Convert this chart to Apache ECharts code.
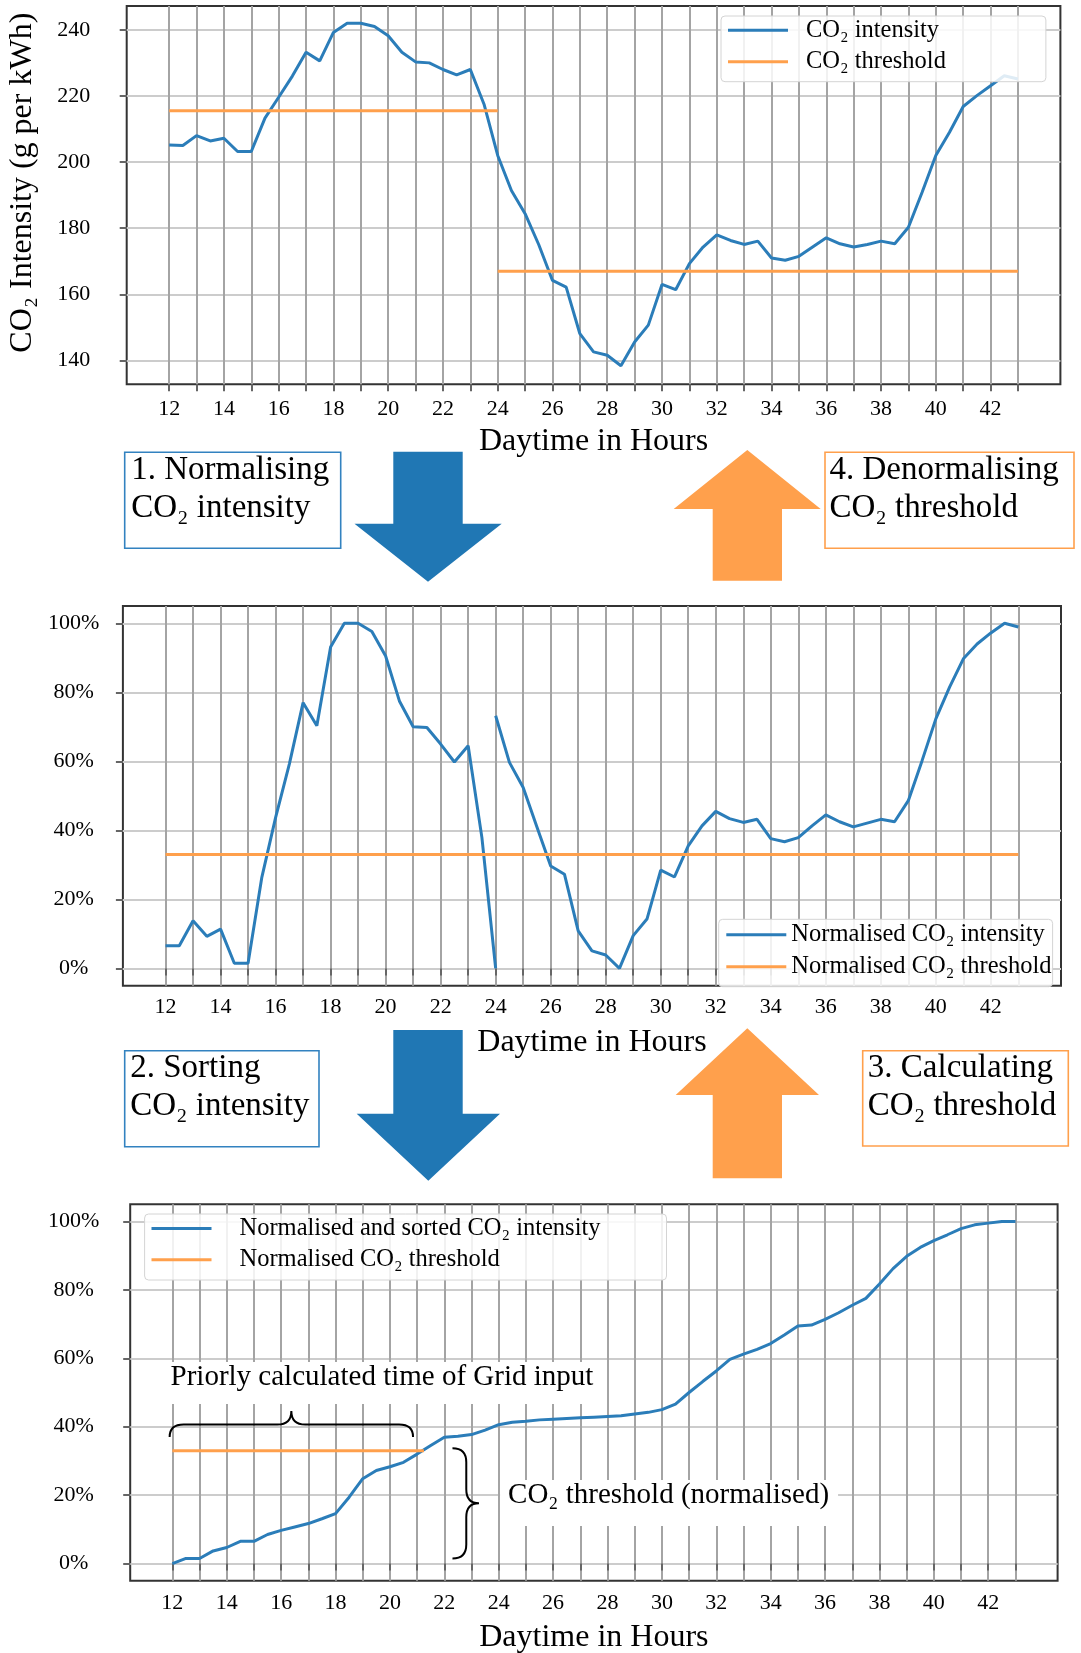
<!DOCTYPE html>
<html>
<head>
<meta charset="utf-8">
<title>CO₂ threshold calculation</title>
<script src="https://cdn.jsdelivr.net/npm/echarts@6/dist/echarts.min.js"></script>
<style>
  html, body { margin: 0; padding: 0; background: #fff; }
  #chart { width: 1081px; height: 1653px; }
</style>
</head>
<body>
<div id="chart"></div>
<script>
// ---- data -------------------------------------------------------------
// Half-hourly time steps, hours counted from midnight of the first day
const HOURS = [12,12.5,13,13.5,14,14.5,15,15.5,16,16.5,17,17.5,18,18.5,19,19.5,20,20.5,21,21.5,22,22.5,23,23.5,24,
  24.5,25,25.5,26,26.5,27,27.5,28,28.5,29,29.5,30,30.5,31,31.5,32,32.5,33,33.5,34,34.5,35,35.5,36,36.5,37,37.5,38,38.5,
  39,39.5,40,40.5,41,41.5,42,42.5,43];

// Grid CO₂ intensity in g per kWh
const CO2_INTENSITY = [205.2,205,208,206.4,207.2,203.2,203.2,213.3,219.6,226,233.2,230.6,239.2,242,242,241,238.2,233.2,
  230.3,230,228,226.4,228,217.5,202,
  191.4,184.4,175,164.2,162.2,148.1,142.6,141.6,138.4,145.6,150.7,163,161.4,169.3,174.3,178,176.3,175.1,176.1,171,170.3,
  171.5,174.3,177.1,175.3,174.3,175.1,176.1,175.3,180.3,190.9,202,209,216.8,220.1,223.1,226.1,225.1];

// Normalised intensity (%) for the first window, 12 h – 24 h
const NORM_WINDOW_1 = [6.6,6.6,13.8,9.3,11.4,1.5,1.5,26.4,43.7,59.2,77,70.3,93.1,100,100,97.6,90.5,77.5,70,69.8,65,59.8,
  64.5,37.9,0];
// Normalised intensity (%) for the second window, 24 h – 43 h
const NORM_WINDOW_2 = [73.2,59.7,52.4,41,29.7,27.3,10.9,5.1,3.9,0,9.5,14.3,28.5,26.5,35.5,41.3,45.5,43.4,42.3,43.2,37.6,
  36.7,37.9,41.3,44.5,42.5,41,42.1,43.2,42.5,48.6,60.2,72.3,81.5,89.7,94,97.2,100,98.9];

// Normalised intensity (%) sorted in ascending order
const SORTED_NORM = [0,1.5,1.5,3.7,4.7,6.5,6.5,8.5,9.7,10.7,11.7,13.1,14.6,19.4,24.8,27.2,28.3,29.6,32,34.5,36.9,37.2,
  37.7,39,40.6,41.3,41.6,42,42.2,42.4,42.6,42.8,43,43.2,43.7,44.2,45,46.6,50,53.2,56.3,59.7,61.2,62.6,64.3,66.8,69.4,
  69.7,71.4,73.3,75.5,77.5,81.7,86.2,89.8,92.4,94.4,96.1,97.9,99,99.5,100,100];

// Threshold windows (hours) and their thresholds
const THRESHOLD_WINDOWS = [[12, 24], [24, 43]];
const CO2_THRESHOLD = [215.5, 167];          // g per kWh, one per window
const NORM_THRESHOLD = 33;                   // %
const NORM_THRESHOLD_SPAN = [12, 43];        // hours
const SORTED_THRESHOLD_SPAN = [12, 21.25];   // hours, up to the sorted curve

// Axis ticks and labels
const HOUR_TICKS = [12,13,14,15,16,17,18,19,20,21,22,23,24,25,26,27,28,29,30,31,32,33,34,35,36,37,38,39,40,41,42,43];
const HOUR_LABELS = [12,14,16,18,20,22,24,26,28,30,32,34,36,38,40,42];
const G_TICKS = [140,160,180,200,220,240];
const PCT_TICKS = [0,20,40,60,80,100];

// Annotation anchors in the sorted chart (hours, %)
const GRID_INPUT_BRACE = { from: 11.9, to: 20.85, level: 37 };
const THRESHOLD_BRACE = { hour: 22.3, from: 33.7, to: 1.5 };
const GRID_INPUT_LABEL = { hour: 11.64, top: 58.9 };
const THRESHOLD_LABEL = { hour: 24.05, top: 24.4 };

// ---- styling ----------------------------------------------------------
const FONT = '"Liberation Serif", "DejaVu Serif", serif';
const LINE_BLUE = '#2b7db9';
const ARROW_BLUE = '#2077b4';
const ORANGE = '#ffa04c';
const BOX_BLUE = '#3282c0';

const zip = (xs, ys) => xs.map((x, i) => [x, ys[i]]);

function xAxisFor(gridIndex, labelMargin) {
  return {
    type: 'value', gridIndex, min: 10.45, max: 44.55,
    axisLine: { show: false },
    axisTick: { show: true, customValues: HOUR_TICKS, length: 7, lineStyle: { color: '#666', width: 2 } },
    axisLabel: { customValues: HOUR_LABELS, margin: labelMargin, fontFamily: FONT, fontSize: 22, color: '#000' },
    splitLine: { show: true, lineStyle: { color: '#a4a4a4', width: 2 } },
    name: 'Daytime in Hours', nameLocation: 'middle', nameGap: 41,
    nameTextStyle: { fontFamily: FONT, fontSize: 32, color: '#000' }
  };
}

function yAxisFor(gridIndex, min, max, ticks, labelMargin, percent) {
  return {
    type: 'value', gridIndex, min, max,
    axisLine: { show: false },
    axisTick: { show: true, customValues: ticks, length: 7, lineStyle: { color: '#666', width: 2 } },
    axisLabel: {
      customValues: ticks, margin: labelMargin, align: 'center',
      fontFamily: FONT, fontSize: 22, color: '#000',
      formatter: percent ? '{value}%' : '{value}'
    },
    splitLine: { show: true, lineStyle: { color: '#cccccc', width: 2 } }
  };
}

function legendFor(names, left, top, padding, itemGap, textPad) {
  return {
    data: names, orient: 'vertical', left, top, padding, itemGap,
    icon: 'rect', itemWidth: 60, itemHeight: 3, selectedMode: false,
    backgroundColor: 'rgba(255,255,255,0.85)', borderColor: '#d4d4d4', borderWidth: 1, borderRadius: 4,
    textStyle: { fontFamily: FONT, fontSize: 24.5, lineHeight: 20, color: '#000', padding: [0, 0, 0, textPad] }
  };
}

function lineSeries(name, gridIndex, data, color) {
  return {
    name, type: 'line', xAxisIndex: gridIndex, yAxisIndex: gridIndex, data,
    symbol: 'none', color, lineStyle: { color, width: 3 }, connectNulls: false, silent: true
  };
}

// threshold steps in g per kWh, one flat segment per window
const thresholdSteps = [];
THRESHOLD_WINDOWS.forEach((w, i) => {
  if (i) thresholdSteps.push([w[0], '-']);
  thresholdSteps.push([w[0], CO2_THRESHOLD[i]], [w[1], CO2_THRESHOLD[i]]);
});

const normalisedData = [
  ...zip(HOURS.slice(0, NORM_WINDOW_1.length), NORM_WINDOW_1),
  [THRESHOLD_WINDOWS[1][0], '-'],
  ...zip(HOURS.slice(NORM_WINDOW_1.length - 1), NORM_WINDOW_2)
];

const gridBox = { show: true, borderColor: '#333', borderWidth: 2, backgroundColor: 'transparent', outerBoundsMode: 'none' };

const option = {
  animation: false,
  backgroundColor: '#fff',
  textStyle: { fontFamily: FONT, color: '#000' },
  grid: [
    Object.assign({ left: 126.7, top: 6, width: 933.7, height: 378.3 }, gridBox),
    Object.assign({ left: 122.9, top: 606, width: 938.1, height: 379.7 }, gridBox),
    Object.assign({ left: 130.2, top: 1204.3, width: 927.4, height: 376.4 }, gridBox)
  ],
  xAxis: [xAxisFor(0, 14), xAxisFor(1, 10.6), xAxisFor(2, 12)],
  yAxis: [
    Object.assign(yAxisFor(0, 132.8, 247.2, G_TICKS, 53, false), {
      name: 'CO₂ Intensity (g per kWh)', nameLocation: 'middle', nameGap: 88,
      nameTextStyle: { fontFamily: FONT, fontSize: 32, color: '#000', padding: [0, 0, 0, 25] }
    }),
    yAxisFor(1, -5, 105, PCT_TICKS, 49.2, true),
    yAxisFor(2, -5, 105, PCT_TICKS, 56.5, true)
  ],
  legend: [
    legendFor(['CO₂ intensity', 'CO₂ threshold'], 721, 16, [1.7, 100, 7.4, 7], 6.6, 13),
    legendFor(['Normalised CO₂ intensity', 'Normalised CO₂ threshold'], 718.7, 919.3, [3, 1, 7.4, 7.6], 7, 0),
    legendFor(['Normalised and sorted CO₂ intensity', 'Normalised CO₂ threshold'], 144.6, 1214, [2, 66, 7.7, 6.9], 6.3, 23)
  ],
  series: [
    lineSeries('CO₂ intensity', 0, zip(HOURS, CO2_INTENSITY), LINE_BLUE),
    lineSeries('CO₂ threshold', 0, thresholdSteps, ORANGE),
    lineSeries('Normalised CO₂ intensity', 1, normalisedData, LINE_BLUE),
    lineSeries('Normalised CO₂ threshold', 1, NORM_THRESHOLD_SPAN.map(h => [h, NORM_THRESHOLD]), ORANGE),
    lineSeries('Normalised and sorted CO₂ intensity', 2, zip(HOURS, SORTED_NORM), LINE_BLUE),
    lineSeries('Normalised CO₂ threshold', 2, SORTED_THRESHOLD_SPAN.map(h => [h, NORM_THRESHOLD]), ORANGE)
  ]
};

// Curly brace outline built from move / line / quadratic segments
const BraceShape = echarts.graphic.extendShape({
  type: 'brace',
  shape: { segs: [] },
  buildPath(ctx, shape) {
    shape.segs.forEach(s => {
      if (s[0] === 'M') ctx.moveTo(s[1], s[2]);
      else if (s[0] === 'L') ctx.lineTo(s[1], s[2]);
      else ctx.quadraticCurveTo(s[1], s[2], s[3], s[4]);
    });
  }
});
echarts.graphic.registerShape('brace', BraceShape);

const chart = echarts.init(document.getElementById('chart'), null, { renderer: 'canvas' });
chart.setOption(option);

// ---- process arrows and step boxes -------------------------------------
function arrow(points, color) {
  return { type: 'polygon', z: 5, shape: { points }, style: { fill: color } };
}
function stepBox(x, y, w, h, color) {
  return { type: 'rect', z: 5, shape: { x, y, width: w, height: h }, style: { fill: null, stroke: color, lineWidth: 1.6 } };
}
function stepText(x, y, text) {
  return {
    type: 'text', z: 6, x, y,
    style: { text, fill: '#000', font: '33px ' + FONT, lineHeight: 38.3, align: 'left', verticalAlign: 'top' }
  };
}

const layoutGraphics = [
  // step 1 -> normalising
  stepBox(124.7, 452.3, 216, 96, BOX_BLUE),
  stepText(131.2, 450.8, '1. Normalising\nCO₂ intensity'),
  arrow([[393.3,451.7],[462.7,451.7],[462.7,523.7],[501.7,523.7],[428,581.7],[354.5,523.7],[393.3,523.7]], ARROW_BLUE),
  // step 4 -> denormalising
  arrow([[747.3,450],[820.7,509],[782,509],[782,580.7],[712.7,580.7],[712.7,509],[673.7,509]], ORANGE),
  stepBox(825, 452.3, 249, 96, ORANGE),
  stepText(829.5, 450.8, '4. Denormalising\nCO₂ threshold'),
  // step 2 -> sorting
  stepBox(124.7, 1050.7, 194.3, 96, BOX_BLUE),
  stepText(130.2, 1049.1, '2. Sorting\nCO₂ intensity'),
  arrow([[393.3,1030],[462.7,1030],[462.7,1113.7],[500,1113.7],[428.3,1180.7],[356.7,1113.7],[393.3,1113.7]], ARROW_BLUE),
  // step 3 -> calculating
  arrow([[747.3,1028.3],[819,1095],[782,1095],[782,1178.3],[712.7,1178.3],[712.7,1095],[675.7,1095]], ORANGE),
  stepBox(862.7, 1050.7, 205.6, 95.3, ORANGE),
  stepText(867.8, 1049.1, '3. Calculating\nCO₂ threshold')
];

// ---- annotations on the sorted chart ------------------------------------
const px = (h, p) => chart.convertToPixel({ gridIndex: 2 }, [h, p]);

function horizontalBrace(b) {
  const [x0, yb] = px(b.from, b.level);
  const [x1] = px(b.to, b.level);
  const xm = (x0 + x1) / 2, yf = yb - 12.4, yp = yb - 26, r = 14;
  return [['M', x0, yb], ['Q', x0, yf, x0 + r, yf], ['L', xm - r, yf], ['Q', xm, yf, xm, yp],
          ['Q', xm, yf, xm + r, yf], ['L', x1 - r, yf], ['Q', x1, yf, x1, yb]];
}
function verticalBrace(b) {
  const [xe, y0] = px(b.hour, b.from);
  const [, y1] = px(b.hour, b.to);
  const ym = (y0 + y1) / 2, xs = xe + 13.8, xp = xe + 26.5, r = 14;
  return [['M', xe, y0], ['Q', xs, y0, xs, y0 + r], ['L', xs, ym - r], ['Q', xs, ym, xp, ym],
          ['Q', xs, ym, xs, ym + r], ['L', xs, y1 - r], ['Q', xs, y1, xe, y1]];
}
function boxedLabel(anchor, text, padding) {
  const [x, y] = px(anchor.hour, anchor.top);
  return {
    type: 'text', z: 1, x, y,
    style: {
      text, fill: '#000', font: '29px ' + FONT, lineHeight: 31,
      align: 'left', verticalAlign: 'top', backgroundColor: '#fff', padding
    }
  };
}

const annotationGraphics = [
  boxedLabel(GRID_INPUT_LABEL, 'Priorly calculated time of Grid input', [0, 8, 11, 8]),
  boxedLabel(THRESHOLD_LABEL, 'CO₂ threshold (normalised)', [0, 9, 15, 8]),
  { type: 'brace', z: 10, shape: { segs: horizontalBrace(GRID_INPUT_BRACE) },
    style: { fill: null, stroke: '#000', lineWidth: 2 } },
  { type: 'brace', z: 10, shape: { segs: verticalBrace(THRESHOLD_BRACE) },
    style: { fill: null, stroke: '#000', lineWidth: 2 } }
];

chart.setOption({ graphic: { elements: layoutGraphics.concat(annotationGraphics) } });
</script>
</body>
</html>
